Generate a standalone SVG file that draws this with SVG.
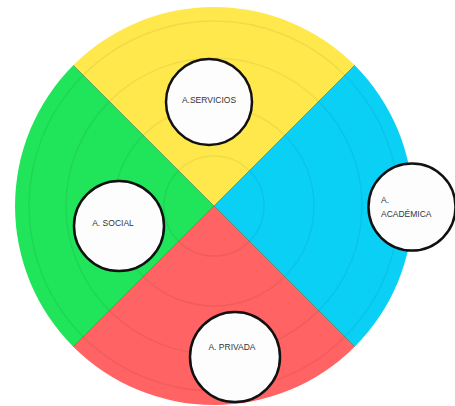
<svg xmlns="http://www.w3.org/2000/svg" width="455" height="406" viewBox="0 0 455 406">
<style>
.ring{fill:none;stroke:#000;stroke-opacity:0.06;stroke-width:1.5}
.sep{stroke:#2a6a30;stroke-opacity:0.5;stroke-width:1}
.node circle{fill:#fdfdfd;stroke:#111;stroke-width:2.5}
.node text{font-family:"Liberation Sans",Arial,sans-serif;font-size:8.5px;fill:#333}
</style>
<rect width="455" height="406" fill="#fff"/>
<g id="wheel">
<path d="M214,206 L73.3,65.3 A199,199 0 0 1 354.7,65.3 Z" fill="#FFE84C"/>
<path d="M214,206 L354.7,65.3 A199,199 0 0 1 354.7,346.7 Z" fill="#0BD0F5"/>
<path d="M214,206 L354.7,346.7 A199,199 0 0 1 73.3,346.7 Z" fill="#FF6363"/>
<path d="M214,206 L73.3,346.7 A199,199 0 0 1 73.3,65.3 Z" fill="#20E45A"/>
<circle class="ring" cx="214" cy="206" r="50"/>
<circle class="ring" cx="214" cy="206" r="100"/>
<circle class="ring" cx="214" cy="206" r="148"/>
<circle class="ring" cx="214" cy="206" r="185"/>
</g>
<g id="connectors">
<line class="sep" x1="73.3" y1="65.3" x2="354.7" y2="346.7"/>
<line class="sep" x1="354.7" y1="65.3" x2="73.3" y2="346.7"/>
</g>
<g id="servicios" class="node">
<circle cx="209" cy="102" r="43"/>
<text x="209" y="103" text-anchor="middle">A.SERVICIOS</text>
</g>
<g id="social" class="node">
<circle cx="119" cy="226" r="45"/>
<text x="113" y="226" text-anchor="middle">A. SOCIAL</text>
</g>
<g id="academica" class="node">
<circle cx="412" cy="207" r="43.5"/>
<text x="381" y="203">A.</text>
<text x="381" y="217">ACADÉMICA</text>
</g>
<g id="privada" class="node">
<circle cx="235" cy="357" r="45"/>
<text x="232" y="350" text-anchor="middle">A. PRIVADA</text>
</g>
</svg>
